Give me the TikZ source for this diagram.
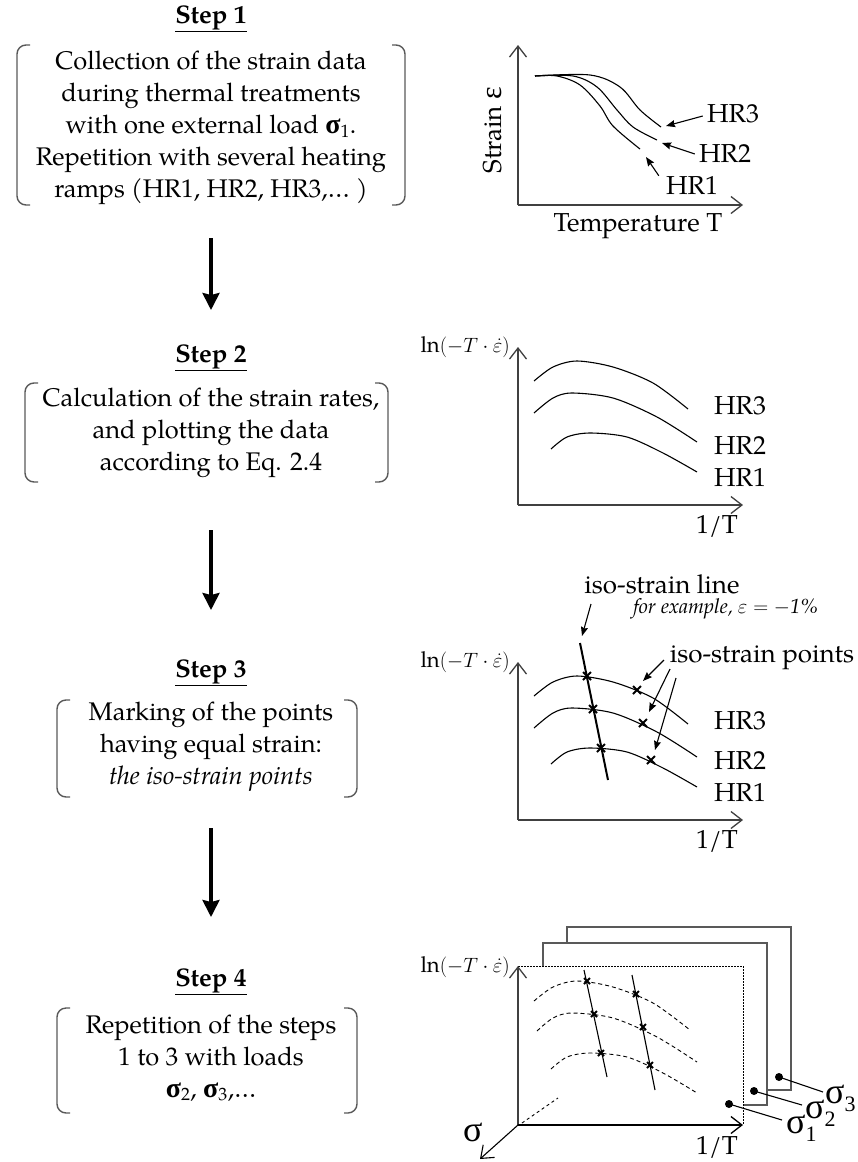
\documentclass[tikz,border=0pt]{standalone}
\usepackage{fontspec}
\setmainfont{texgyrepagella}[Extension=.otf, UprightFont=*-regular, BoldFont=*-bold, ItalicFont=*-italic, BoldItalicFont=*-bolditalic]
\newfontfamily\grk{Liberation Serif}
\usetikzlibrary{arrows.meta}
\definecolor{agray}{gray}{0.25}
\definecolor{bgray}{gray}{0.35}

\tikzset{
  txt/.style={font=\fontsize{25.5}{32}\selectfont, align=center, inner sep=0pt},
  head/.style={font=\fontsize{25.5}{30}\selectfont\bfseries, inner sep=0pt},
  lbl/.style={font=\fontsize{26}{30}\selectfont, inner sep=0pt},
  mlbl/.style={font=\fontsize{22}{26}\selectfont, inner sep=0pt, anchor=east},
  sgl/.style={anchor=base west, inner sep=0pt, font=\fontsize{36}{36}\selectfont\grk},
  brk/.style={draw=bgray, line width=1.4pt, rounded corners=9pt},
  axis/.style={draw=agray, line width=1.3pt, -{Straight Barb[length=11pt,width=17pt]}},
  curve/.style={line width=1.1pt},
  dcurve/.style={line width=0.9pt, dash pattern=on 4pt off 3pt},
  flow/.style={line width=3.3pt, -{Stealth[length=17pt,width=17pt,inset=2pt]}},
  note/.style={line width=1.1pt, -{Stealth[length=9pt,width=7pt,inset=1pt]}},
  isoline/.style={line width=2pt},
  frame/.style={draw=bgray, line width=1.3pt},
  dframe/.style={line width=0.9pt, dash pattern=on 1.5pt off 1.5pt},
}

% a pair of round-ended brackets around a text block
\newcommand\bracketpair[4]{%
  \draw[brk] ({#1+13},#2) -- (#1,#2) -- (#1,#4) -- ({#1+13},#4);
  \draw[brk] ({#3-13},#2) -- (#3,#2) -- (#3,#4) -- ({#3-13},#4);}
% a small cross marking an iso-strain point
\newcommand\isox[2][4]{%
  \draw[line width=2pt] (#2) +(-#1,-#1) -- +(#1,#1) +(-#1,#1) -- +(#1,-#1);}
% the load symbol used in the step texts
\newcommand\sig{{\grk\bfseries\fontsize{28}{30}\selectfont σ}}
% ordinate label of the rate plots
\newcommand\lnlabel{$\ln\bigl(-T\cdot\dot{\varepsilon}\bigr)$}

\begin{document}
\begin{tikzpicture}[x=1pt,y=-1pt]
\useasboundingbox (0,0) rectangle (857,1162);

% ---------------- left column: the four steps ----------------
\node[head] (h1) at (211,19) {\underline{Step 1}};
\node[txt] (s1) at (211,128) {Collection of the strain data\\during thermal treatments\\with one external load \sig\textsubscript{1}.\\Repetition with several heating\\ramps (HR1, HR2, HR3,\dots\ )};
\bracketpair{17}{45}{405}{205}

\node[head] (h2) at (211,358) {\underline{Step 2}};
\node[txt] (s2) at (211,433) {Calculation of the strain rates,\\and plotting the data\\according to Eq. 2.4};
\bracketpair{25}{383}{388}{482}

\node[head] (h3) at (211,673) {\underline{Step 3}};
\node[txt] (s3) at (211,747) {Marking of the points\\having equal strain:\\\textit{the iso-strain points}};
\bracketpair{57}{700}{357}{797}

\node[head] (h4) at (211,982) {\underline{Step 4}};
\node[txt] (s4) at (211,1058) {Repetition of the steps\\1 to 3 with loads\\\sig\textsubscript{2}, \sig\textsubscript{3},\dots};
\bracketpair{57}{1008}{357}{1113}

\coordinate (f1a) at (211,238); \coordinate (f1b) at (211,310);
\coordinate (f2a) at (211,530); \coordinate (f2b) at (211,610);
\coordinate (f3a) at (211,828); \coordinate (f3b) at (211,917);
\draw[flow] (f1a) -- (f1b);
\draw[flow] (f2a) -- (f2b);
\draw[flow] (f3a) -- (f3b);

% ---------------- plot 1: strain vs temperature ----------------
\draw[axis] (518,205) -- (518,45);
\draw[axis] (518,205) -- (743,205);
\node[lbl, rotate=90] (yl1) at (493,130) {Strain {\grk\fontsize{30}{30}\selectfont ε}};
\node[lbl] (xl1) at (638,226) {Temperature T};
\draw[curve] plot[smooth, tension=0.55] coordinates {(535,76) (557,76) (580,85) (600,106) (613,126) (640,149)};
\draw[curve] plot[smooth, tension=0.55] coordinates {(535,76) (573,76) (597,87) (617,110) (633,127) (657,140)};
\draw[curve] plot[smooth, tension=0.55] coordinates {(535,76) (590,75) (620,87) (640,110) (661,127)};
\node[lbl] (hr3a) at (733,114) {HR3};
\node[lbl] (hr2a) at (725,154) {HR2};
\node[lbl] (hr1a) at (692,186) {HR1};
\coordinate (t3) at (666,126); \coordinate (t2) at (662,143); \coordinate (t1) at (646,157);
\draw[note] (hr3a.west) ++(-4,2) -- (t3);
\draw[note] (hr2a.west) ++(-4,0) -- (t2);
\draw[note] (hr1a.north west) ++(-7,-1) -- (t1);

% ---------------- plot 2: Arrhenius-type plot ----------------
\draw[axis] (518,505) -- (518,347);
\draw[axis] (518,505) -- (743,505);
\node[mlbl] (yl2) at (510,347) {\lnlabel};
\node[lbl] (xl2) at (717,526) {1/T};
\draw[curve] plot[smooth] coordinates {(534,381) (553,367) (577,361) (613,367) (653,383) (688,409)};
\draw[curve] plot[smooth] coordinates {(534,413) (553,398) (572,393) (613,398) (657,417) (697,442)};
\draw[curve] plot[smooth] coordinates {(551,449) (567,437) (590,433) (627,437) (663,453) (697,472)};
\node[lbl] (hr3b) at (740,406) {HR3};
\node[lbl] (hr2b) at (740,446) {HR2};
\node[lbl] (hr1b) at (740,478) {HR1};

% ---------------- plot 3: iso-strain points ----------------
\draw[axis] (518,820) -- (518,662);
\draw[axis] (518,820) -- (743,820);
\node[mlbl] (yl3) at (510,662) {\lnlabel};
\node[lbl] (xl3) at (717,841) {1/T};
\draw[curve] plot[smooth] coordinates {(534,696) (553,682) (577,676) (613,682) (653,698) (688,724)};
\draw[curve] plot[smooth] coordinates {(534,728) (553,713) (572,708) (613,713) (657,732) (697,757)};
\draw[curve] plot[smooth] coordinates {(551,764) (567,752) (590,748) (627,752) (663,768) (697,787)};
\node[lbl] (hr3c) at (740,721) {HR3};
\node[lbl] (hr2c) at (740,761) {HR2};
\node[lbl] (hr1c) at (740,793) {HR1};
\coordinate (il1) at (580,643); \coordinate (il2) at (608,780);
\draw[isoline] (il1) -- (il2);
\isox{587,676} \isox{593,709} \isox{601,748}
\isox{637,690} \isox{643,723} \isox{651,760}
\node[lbl] (isl) at (662,584) {iso-strain line};
\node[font=\fontsize{20.5}{24}\selectfont\itshape, inner sep=0pt] (ex) at (726,609) {for example, $\varepsilon = -$1\%};
\coordinate (isla) at (591,604); \coordinate (islb) at (582,636);
\draw[note] (isla) -- (islb);
\node[lbl] (isp) at (762,658) {iso-strain points};
\coordinate (p1a) at (664,660); \coordinate (p1b) at (643,681);
\coordinate (p2a) at (670,669); \coordinate (p2b) at (649,712);
\coordinate (p3a) at (676,678); \coordinate (p3b) at (655,750);
\draw[note] (p1a) -- (p1b);
\draw[note] (p2a) -- (p2b);
\draw[note] (p3a) -- (p3b);

% ---------------- plot 4: stack of planes, one per load ----------------
\draw[frame] (567,943) -- (567,927) -- (791,927) -- (791,1090) -- (767,1090);
\draw[frame] (543,966) -- (543,943) -- (767,943) -- (767,1105) -- (743,1105);
\draw[dframe] (518,966) -- (743,966) -- (743,1125);
\draw[axis] (518,1125) -- (518,966);
\draw[axis, draw=black] (518,1125) -- (743,1125);
\draw[axis, draw=black, line width=1.1pt] (518,1125) -- (480,1159);
\draw[line width=0.9pt, dash pattern=on 3pt off 3pt] (522,1123) -- (558,1098);
\node[mlbl] (yl4) at (510,967) {\lnlabel};
\node[lbl] (xl4) at (717,1147) {1/T};
\node[sgl] (sg) at (463,1141) {σ};
\draw[dcurve] plot[smooth] coordinates {(534,1001) (553,987) (577,981) (613,987) (653,1003) (690,1030)};
\draw[dcurve] plot[smooth] coordinates {(537,1031) (553,1018) (572,1013) (613,1018) (657,1037) (697,1062)};
\draw[dcurve] plot[smooth] coordinates {(551,1069) (567,1057) (590,1053) (627,1057) (663,1073) (697,1093)};
\coordinate (ja) at (584,970); \coordinate (jb) at (607,1077);
\coordinate (ka) at (632,975); \coordinate (kb) at (655,1090);
\draw[line width=1.1pt] (ja) -- (jb);
\draw[line width=1.1pt] (ka) -- (kb);
\isox[3]{587,981} \isox[3]{594,1014} \isox[3]{601,1053}
\isox[3]{636,994} \isox[3]{643,1027} \isox[3]{650,1065}

% load labels
\coordinate (d1) at (729,1104); \coordinate (d2) at (754,1091); \coordinate (d3) at (779,1077);
\fill (d1) circle (4); \fill (d2) circle (4); \fill (d3) circle (4);
\node[sgl] (sg1) at (786,1133) {σ\raisebox{-8pt}{\fontsize{22}{22}\selectfont 1}};
\node[sgl] (sg2) at (805,1118) {σ\raisebox{-8pt}{\fontsize{22}{22}\selectfont 2}};
\node[sgl] (sg3) at (825,1103) {σ\raisebox{-8pt}{\fontsize{22}{22}\selectfont 3}};
\coordinate (e1) at (782,1120); \coordinate (e2) at (802,1105); \coordinate (e3) at (823,1092);
\draw[line width=1.1pt] (d1) -- (e1);
\draw[line width=1.1pt] (d2) -- (e2);
\draw[line width=1.1pt] (d3) -- (e3);
\end{tikzpicture}
\end{document}
